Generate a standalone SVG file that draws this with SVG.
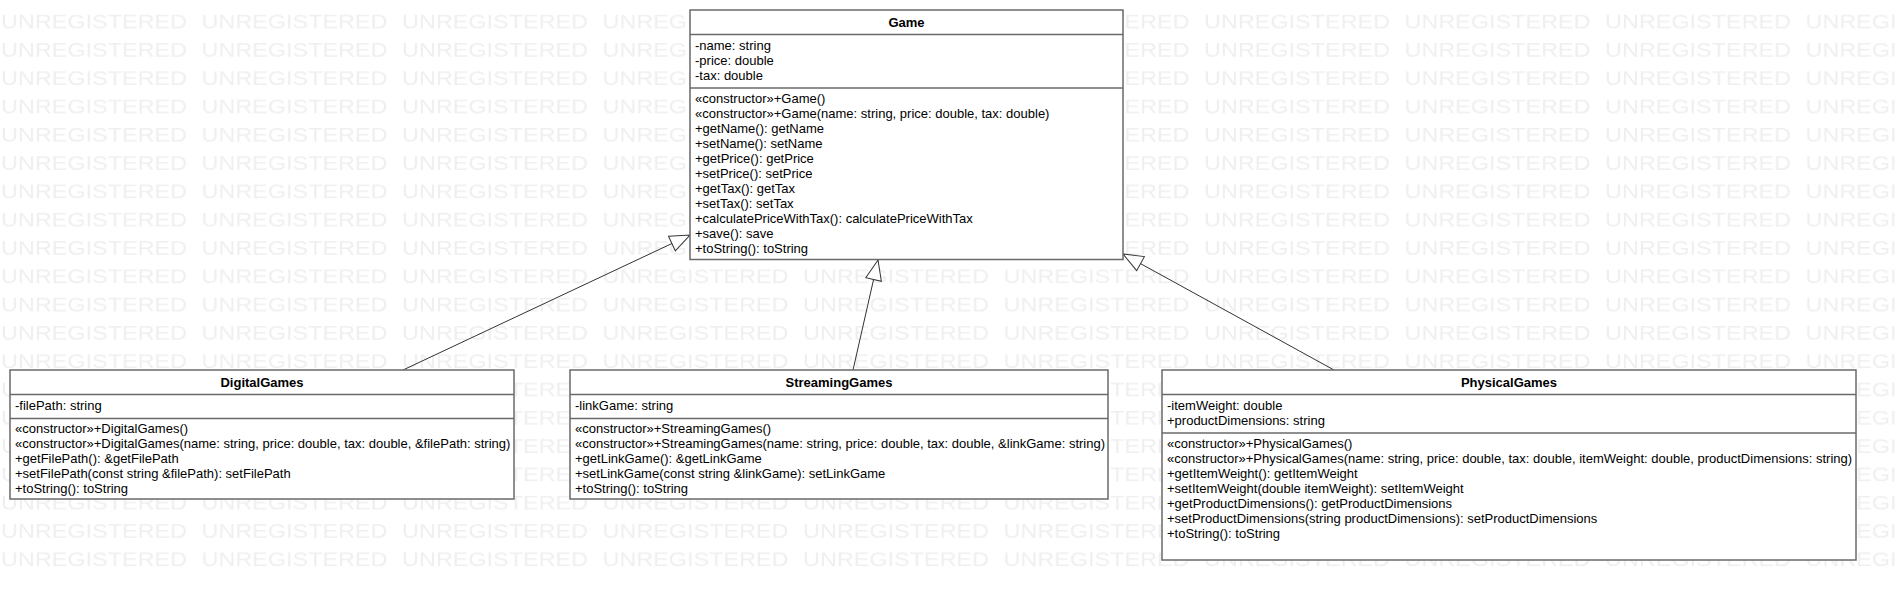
<svg xmlns="http://www.w3.org/2000/svg" width="1896" height="600" viewBox="0 0 1896 600">
<style>
.box{fill:#ffffff;stroke:#6a6a6a;stroke-width:1.5}
.sep{stroke:#6a6a6a;stroke-width:1.5}
.t{font-family:"Liberation Sans",Arial,sans-serif;font-size:13px;fill:#000000}
.title{font-family:"Liberation Sans",Arial,sans-serif;font-size:13px;font-weight:bold;fill:#000000;text-anchor:middle}
.wm{font-family:"Liberation Sans",Arial,sans-serif;font-size:20px;fill:#efefef}
.edge{fill:none;stroke:#333333;stroke-width:1}
</style>
<defs>
<pattern id="wmPat" patternUnits="userSpaceOnUse" x="0" y="5" width="200.5" height="28.3">
<text class="wm" x="1" y="23.3" textLength="186" lengthAdjust="spacingAndGlyphs">UNREGISTERED</text>
</pattern>
<marker id="gen" markerUnits="userSpaceOnUse" markerWidth="22" markerHeight="18" refX="20" refY="8" orient="auto" viewBox="-1 -1 22 18">
<path d="M0,0 L20,8 L0,16 Z" fill="#ffffff" stroke="#333333" stroke-width="1"/>
</marker>
</defs>
<rect x="0" y="0" width="1896" height="600" fill="#ffffff"/>
<rect x="0" y="0" width="1896" height="575" fill="url(#wmPat)"/>

<g id="connectors">
<path class="edge" d="M403,370 L690,235" marker-end="url(#gen)"/>
<path class="edge" d="M853,370 L878,260" marker-end="url(#gen)"/>
<path class="edge" d="M1334,370 L1123,254" marker-end="url(#gen)"/>
</g>

<g id="Game">
<rect class="box" x="690" y="10" width="433" height="249.5"/>
<line class="sep" x1="690" y1="34.5" x2="1123" y2="34.5"/>
<line class="sep" x1="690" y1="88" x2="1123" y2="88"/>
<text class="title" x="906.5" y="27">Game</text>
<text class="t" x="695" y="49.5">-name: string<tspan x="695" dy="15">-price: double</tspan><tspan x="695" dy="15">-tax: double</tspan></text>
<text class="t" x="695" y="102.5">«constructor»+Game()<tspan x="695" dy="15">«constructor»+Game(name: string, price: double, tax: double)</tspan><tspan x="695" dy="15">+getName(): getName</tspan><tspan x="695" dy="15">+setName(): setName</tspan><tspan x="695" dy="15">+getPrice(): getPrice</tspan><tspan x="695" dy="15">+setPrice(): setPrice</tspan><tspan x="695" dy="15">+getTax(): getTax</tspan><tspan x="695" dy="15">+setTax(): setTax</tspan><tspan x="695" dy="15">+calculatePriceWithTax(): calculatePriceWithTax</tspan><tspan x="695" dy="15">+save(): save</tspan><tspan x="695" dy="15">+toString(): toString</tspan></text>
</g>

<g id="DigitalGames">
<rect class="box" x="10" y="370" width="504" height="129"/>
<line class="sep" x1="10" y1="394.5" x2="514" y2="394.5"/>
<line class="sep" x1="10" y1="418.5" x2="514" y2="418.5"/>
<text class="title" x="262" y="387">DigitalGames</text>
<text class="t" x="15" y="409.5">-filePath: string</text>
<text class="t" x="15" y="433">«constructor»+DigitalGames()<tspan x="15" dy="15">«constructor»+DigitalGames(name: string, price: double, tax: double, &amp;filePath: string)</tspan><tspan x="15" dy="15">+getFilePath(): &amp;getFilePath</tspan><tspan x="15" dy="15">+setFilePath(const string &amp;filePath): setFilePath</tspan><tspan x="15" dy="15">+toString(): toString</tspan></text>
</g>

<g id="StreamingGames">
<rect class="box" x="570" y="370" width="538" height="129"/>
<line class="sep" x1="570" y1="394.5" x2="1108" y2="394.5"/>
<line class="sep" x1="570" y1="418.5" x2="1108" y2="418.5"/>
<text class="title" x="839" y="387">StreamingGames</text>
<text class="t" x="575" y="409.5">-linkGame: string</text>
<text class="t" x="575" y="433">«constructor»+StreamingGames()<tspan x="575" dy="15">«constructor»+StreamingGames(name: string, price: double, tax: double, &amp;linkGame: string)</tspan><tspan x="575" dy="15">+getLinkGame(): &amp;getLinkGame</tspan><tspan x="575" dy="15">+setLinkGame(const string &amp;linkGame): setLinkGame</tspan><tspan x="575" dy="15">+toString(): toString</tspan></text>
</g>

<g id="PhysicalGames">
<rect class="box" x="1162" y="370" width="694" height="190"/>
<line class="sep" x1="1162" y1="394.5" x2="1856" y2="394.5"/>
<line class="sep" x1="1162" y1="433" x2="1856" y2="433"/>
<text class="title" x="1509" y="387">PhysicalGames</text>
<text class="t" x="1167" y="409.5">-itemWeight: double<tspan x="1167" dy="15">+productDimensions: string</tspan></text>
<text class="t" x="1167" y="448">«constructor»+PhysicalGames()<tspan x="1167" dy="15">«constructor»+PhysicalGames(name: string, price: double, tax: double, itemWeight: double, productDimensions: string)</tspan><tspan x="1167" dy="15">+getItemWeight(): getItemWeight</tspan><tspan x="1167" dy="15">+setItemWeight(double itemWeight): setItemWeight</tspan><tspan x="1167" dy="15">+getProductDimensions(): getProductDimensions</tspan><tspan x="1167" dy="15">+setProductDimensions(string productDimensions): setProductDimensions</tspan><tspan x="1167" dy="15">+toString(): toString</tspan></text>
</g>
</svg>
